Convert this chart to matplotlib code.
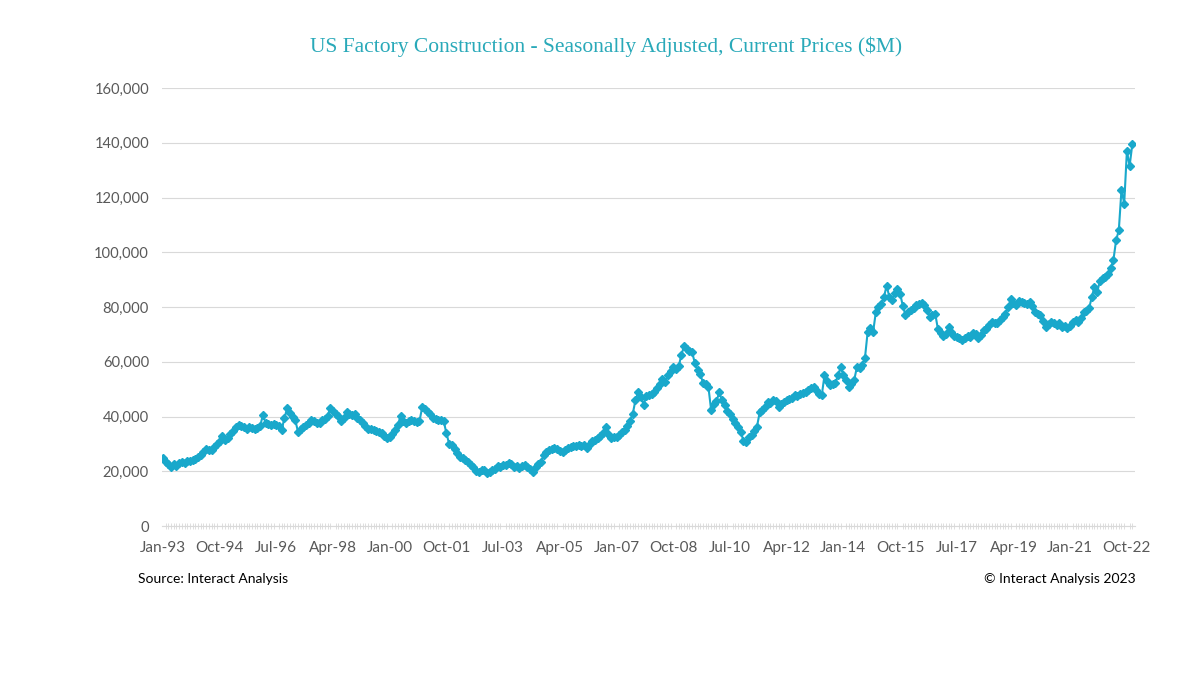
import matplotlib
matplotlib.use("Agg")
import matplotlib.pyplot as plt
from matplotlib.ticker import FuncFormatter, MultipleLocator

# Monthly values ($M), Jan-1993 .. Dec-2022 (thousands)
y1993 = [24.7, 23.5, 22.6, 21.5, 22.8, 22.0, 23.0, 23.4, 22.9, 23.6, 23.8, 24.2]
y1994 = [24.5, 25.3, 25.8, 26.9, 28.3, 27.6, 27.7, 29.0, 30.1, 31.0, 33.0, 31.5]
y1995 = [32.2, 33.5, 34.8, 36.0, 36.9, 36.4, 36.0, 35.6, 36.2, 35.8, 35.5, 35.9]
y1996 = [36.5, 40.5, 37.8, 37.2, 37.0, 37.3, 36.8, 36.5, 35.2, 39.5, 43.0, 41.1]
y1997 = [39.8, 38.7, 34.5, 35.4, 36.2, 37.0, 37.5, 38.7, 38.2, 37.8, 37.5, 38.6]
y1998 = [39.2, 40.2, 43.2, 42.0, 41.0, 40.3, 38.2, 39.5, 41.6, 41.0, 40.5, 40.8]
y1999 = [39.5, 38.8, 37.8, 36.4, 35.5, 35.3, 35.0, 34.8, 34.3, 33.8, 32.9, 32.2]
y2000 = [32.6, 33.6, 35.0, 36.8, 40.3, 38.2, 37.5, 38.2, 38.7, 38.4, 38.0, 38.3]
y2001 = [43.3, 42.6, 41.5, 40.8, 39.4, 39.0, 38.8, 38.6, 38.2, 33.8, 30.0, 29.5]
y2002 = [28.2, 26.6, 25.3, 24.7, 24.0, 23.2, 22.3, 21.5, 20.2, 19.9, 20.3, 20.6]
y2003 = [19.4, 19.6, 20.3, 21.0, 22.0, 21.6, 22.4, 22.2, 22.9, 22.5, 21.7, 22.0]
y2004 = [21.2, 21.8, 22.3, 21.6, 21.0, 19.9, 21.5, 22.5, 23.5, 25.8, 27.2, 27.9]
y2005 = [28.0, 28.4, 28.0, 27.4, 27.1, 27.8, 28.6, 29.0, 29.2, 29.4, 29.7, 29.3]
y2006 = [29.5, 28.6, 29.8, 30.9, 31.5, 32.2, 32.8, 34.0, 36.0, 33.5, 32.2, 32.4]
y2007 = [32.6, 33.2, 34.3, 35.2, 36.5, 38.5, 41.0, 46.0, 48.8, 47.2, 44.3, 47.5]
y2008 = [47.8, 48.3, 49.0, 50.5, 52.0, 53.8, 52.6, 55.0, 56.8, 58.2, 57.5, 58.3]
y2009 = [62.5, 65.8, 64.5, 64.0, 63.4, 59.5, 57.0, 55.5, 52.3, 51.8, 50.9, 42.5]
y2010 = [44.6, 45.5, 48.8, 46.0, 44.2, 42.0, 40.8, 39.2, 37.6, 36.0, 34.5, 31.0]
y2011 = [30.8, 32.5, 33.4, 34.8, 36.3, 41.5, 42.2, 43.5, 45.3, 44.8, 46.0, 45.5]
y2012 = [43.6, 44.5, 45.2, 46.0, 46.3, 46.8, 47.8, 47.4, 48.2, 48.6, 49.0, 49.8]
y2013 = [50.3, 50.8, 49.6, 48.4, 47.8, 55.0, 53.0, 51.5, 51.8, 52.1, 55.0, 58.0]
y2014 = [55.2, 53.5, 50.8, 52.0, 53.3, 58.0, 57.8, 58.8, 61.5, 71.0, 72.3, 70.8]
y2015 = [78.0, 80.0, 81.0, 83.5, 87.8, 83.8, 82.5, 85.0, 86.6, 84.9, 80.5, 77.0]
y2016 = [78.0, 78.8, 79.6, 80.6, 81.2, 81.5, 80.7, 79.0, 76.5, 77.2, 77.6, 72.0]
y2017 = [70.5, 69.3, 70.2, 72.8, 71.0, 69.5, 69.0, 68.6, 67.9, 68.8, 69.4, 69.1]
y2018 = [70.6, 70.3, 68.5, 69.8, 71.5, 72.0, 73.5, 74.6, 74.3, 74.0, 75.2, 76.3]
y2019 = [77.5, 80.0, 83.0, 81.5, 80.8, 82.3, 82.0, 81.3, 81.0, 81.9, 80.5, 78.3]
y2020 = [77.5, 77.0, 75.0, 72.8, 73.8, 74.6, 74.2, 73.5, 74.0, 72.8, 73.0, 72.2]
y2021 = [73.0, 74.5, 75.2, 74.6, 76.0, 78.2, 78.5, 79.5, 83.7, 87.4, 85.5, 89.5]
y2022 = [90.6, 91.0, 92.0, 94.2, 97.1, 104.4, 108.0, 122.9, 117.8, 137.0, 131.5, 139.4]

years = [y1993, y1994, y1995, y1996, y1997, y1998, y1999, y2000, y2001, y2002,
         y2003, y2004, y2005, y2006, y2007, y2008, y2009, y2010, y2011, y2012,
         y2013, y2014, y2015, y2016, y2017, y2018, y2019, y2020, y2021, y2022]
values = [v * 1000 for yr in years for v in yr]
months = list(range(len(values)))

month_names = ["Jan", "Feb", "Mar", "Apr", "May", "Jun", "Jul", "Aug", "Sep", "Oct", "Nov", "Dec"]
tick_step = 21
tick_pos = list(range(0, len(values), tick_step))
tick_labels = [f"{month_names[m % 12]}-{(1993 + m // 12) % 100:02d}" for m in tick_pos]

title = "US Factory Construction - Seasonally Adjusted, Current Prices ($M)"
source = "Source: Interact Analysis"
copyright_txt = "\u00a9 Interact Analysis 2023"

line_color = "#19A8CB"
title_color = "#29A9B9"
grid_color = "#D9D9D9"
text_color = "#595959"

fig = plt.figure(figsize=(12, 6.75), dpi=100)
ax = fig.add_axes([161.6 / 1200, 1 - 526 / 675, (1135 - 161.6) / 1200, (526 - 88) / 675])

ax.plot(months, values, color=line_color, linewidth=1.5, marker="D", markersize=4.2,
        markerfacecolor=line_color, markeredgecolor=line_color, zorder=3)

ax.set_xlim(-0.5, 360)
ax.set_ylim(0, 160000)
ax.yaxis.set_major_locator(MultipleLocator(20000))
ax.yaxis.set_major_formatter(FuncFormatter(lambda v, p: f"{int(v):,}"))
ax.grid(axis="y", color=grid_color, linewidth=0.8, zorder=0)
ax.set_axisbelow(True)

ax.set_xticks(tick_pos)
ax.set_xticklabels(tick_labels)
ax.set_xticks(months, minor=True)
ax.tick_params(axis="x", which="major", length=0, pad=11, labelsize=11, labelcolor=text_color)
ax.tick_params(axis="x", which="minor", length=5, direction="inout", color=grid_color, width=0.6)
ax.tick_params(axis="y", length=0, pad=9, labelsize=10.6, labelcolor=text_color)

for s in ["top", "right", "left"]:
    ax.spines[s].set_visible(False)
ax.spines["bottom"].set_color(grid_color)
ax.spines["bottom"].set_linewidth(0.8)

for lbl in ax.get_xticklabels() + ax.get_yticklabels():
    lbl.set_family("Lato")

fig.text(606 / 1200, 1 - 47 / 675, title, ha="center", va="center", fontsize=15.5,
         color=title_color, family="Liberation Serif")
fig.text(138 / 1200, 1 - 579 / 675, source, ha="left", va="center", fontsize=10,
         color="#000000", family="Lato")
fig.text(1136 / 1200, 1 - 579 / 675, copyright_txt, ha="right", va="center", fontsize=10,
         color="#000000", family="Lato")

fig.savefig("out.png", dpi=100, facecolor="white")
